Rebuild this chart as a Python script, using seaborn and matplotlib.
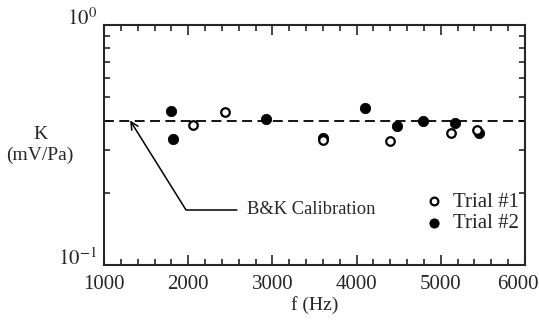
import numpy as np
import pandas as pd
import seaborn as sns
import matplotlib.pyplot as plt
from matplotlib.ticker import FixedLocator, NullFormatter
from matplotlib.transforms import ScaledTranslation

# data
freq_t1 = [2060, 2440, 3600, 4400, 5120, 5430]
k_t1 = [0.383, 0.435, 0.332, 0.330, 0.356, 0.365]
freq_t2 = [1800, 1820, 2920, 3600, 4100, 4480, 4790, 5170, 5450]
k_t2 = [0.44, 0.335, 0.405, 0.337, 0.451, 0.38, 0.397, 0.389, 0.356]
bk_cal = 0.40

df = pd.concat([
    pd.DataFrame({'f': freq_t1, 'K': k_t1, 'trial': 'Trial #1'}),
    pd.DataFrame({'f': freq_t2, 'K': k_t2, 'trial': 'Trial #2'}),
])

sns.set_style('ticks')
plt.rcParams['font.family'] = ['Liberation Serif', 'DejaVu Serif']
plt.rcParams['mathtext.fontset'] = 'stix'

fig = plt.figure(figsize=(5.39, 3.21), dpi=100)
ax = fig.add_axes([104/539, 1 - 265/321, 421/539, 240/321])

ax.axhline(bk_cal, color='black', lw=1.3, dashes=(5.5, 3), zorder=1)

t1 = df[df.trial == 'Trial #1']
t2 = df[df.trial == 'Trial #2']
sns.scatterplot(data=t2, x='f', y='K', ax=ax, color='black', edgecolor='black',
                s=55, marker='o', label='Trial #2', zorder=3)
sns.scatterplot(data=t1, x='f', y='K', ax=ax, facecolor='white', edgecolor='black',
                linewidth=1.6, s=38, marker='o', label='Trial #1', zorder=4)

ax.set_yscale('log')
ax.set_xlim(1000, 6000)
ax.set_ylim(0.1, 1.0)
ax.set_xticks([1000, 2000, 3000, 4000, 5000, 6000])
ax.xaxis.set_minor_locator(FixedLocator(np.arange(1000, 6001, 200)))
ax.set_yticks([0.1, 1.0])
ax.set_yticklabels([r'$10^{-1}$', r'$10^{0}$'])
ax.yaxis.set_minor_locator(FixedLocator([0.2, 0.3, 0.4, 0.5, 0.6, 0.7, 0.8, 0.9]))
ax.yaxis.set_minor_formatter(NullFormatter())
ax.tick_params(which='both', direction='in', top=True, right=True, labelsize=15, width=1.2)
ax.tick_params(which='major', length=7)
ax.tick_params(which='minor', length=4)
ax.tick_params(axis='x', pad=7)
ax.tick_params(axis='y', pad=5)
for sp in ax.spines.values():
    sp.set_linewidth(1.5)

# y tick labels sit a little above their ticks in the original
up = ScaledTranslation(0, 8/100, fig.dpi_scale_trans)
for lab in ax.get_yticklabels():
    lab.set_transform(lab.get_transform() + up)
# last x label is pulled in so it stays on the page
xlabs = ax.get_xticklabels()
xlabs[-1].set_transform(xlabs[-1].get_transform() + ScaledTranslation(-7/100, 0, fig.dpi_scale_trans))

ax.set_xlabel('f (Hz)', fontsize=14, labelpad=2)
ax.set_ylabel('K\n(mV/Pa)', fontsize=14, rotation=0, va='center', ha='center',
              linespacing=1.35)
ax.yaxis.set_label_coords(-0.152, 0.5)

# annotation with elbow arrow
ax.annotate('B&K Calibration', xy=(1310, bk_cal), xytext=(2700, 0.1695),
            fontsize=13.3, va='center', ha='left',
            arrowprops=dict(arrowstyle='->', color='black', lw=1.1,
                            connectionstyle='angle,angleA=0,angleB=122,rad=0',
                            shrinkA=5, shrinkB=0))

handles, labels = ax.get_legend_handles_labels()
order = [labels.index('Trial #1'), labels.index('Trial #2')]
ax.legend([handles[i] for i in order], [labels[i] for i in order],
          loc='upper right', bbox_to_anchor=(1.0, 0.33), frameon=False,
          fontsize=15, handletextpad=0.15, labelspacing=0.1, borderpad=0.2,
          handlelength=1.5, borderaxespad=0.1, markerscale=0.9)

fig.savefig('out.png', dpi=100)
